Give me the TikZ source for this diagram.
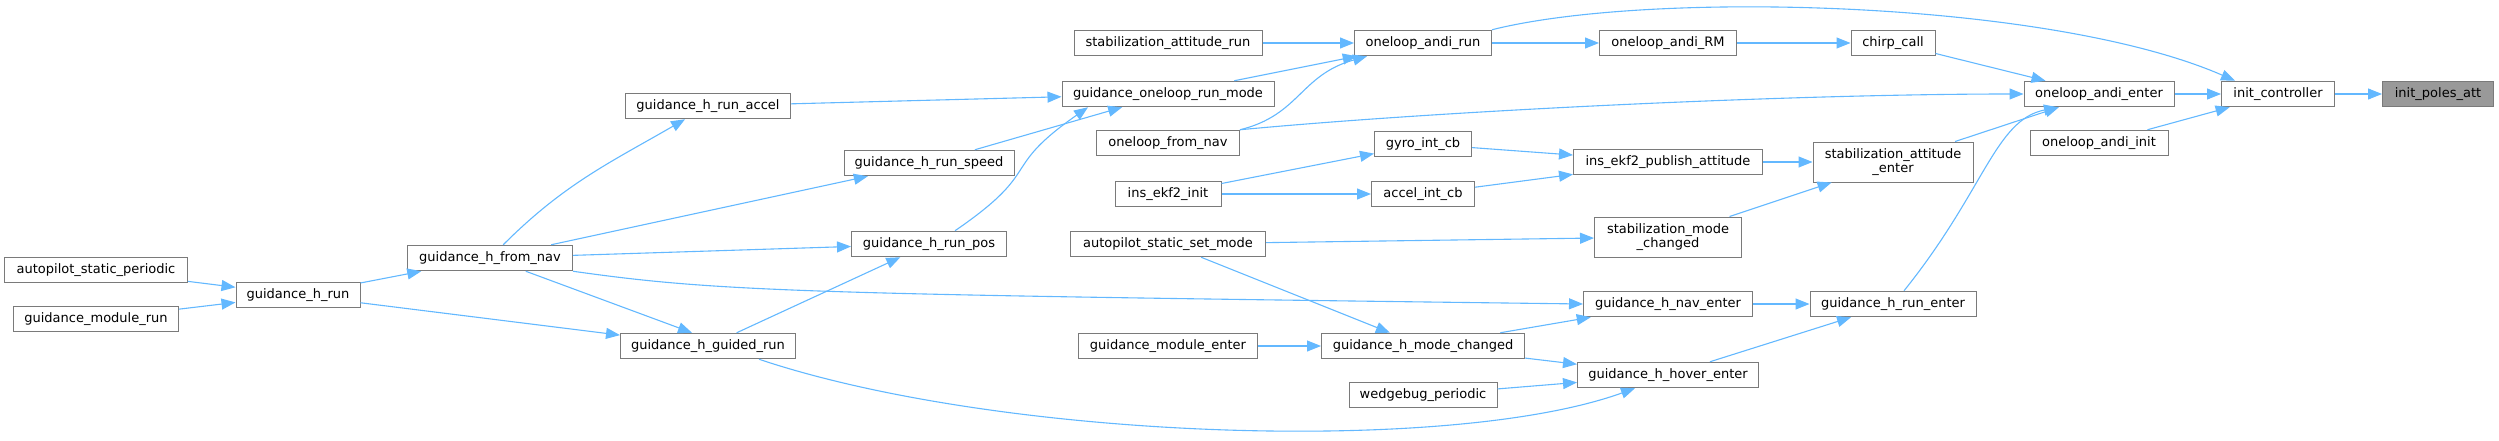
\documentclass[tikz,border=0pt]{standalone}
\usepackage{fontspec}
\setmainfont{DejaVu Sans}
\usetikzlibrary{arrows.meta}
\definecolor{callblue}{HTML}{63B8FF}
\definecolor{boxgray}{HTML}{7A7A7A}
\definecolor{hitgray}{HTML}{999999}

\begin{document}
\begin{tikzpicture}[x=1pt, y=1pt,
    fn/.style={draw=boxgray, line width=1pt, fill=white, minimum height=25.5pt,
        inner sep=2pt, align=center, font=\fontsize{13}{14}\selectfont},
    fntwo/.style={fn, minimum height=40pt},
    hit/.style={fn, fill=hitgray},
    call/.style={callblue, line width=1.1pt, -{Triangle[length=14pt,width=11pt]}}]
    \useasboundingbox (0,0) rectangle (2499,440);

    % Left callers
    \node[fn, minimum width=183pt] (asp) at (96,170) {autopilot\_static\_periodic};
    \node[fn, minimum width=165pt] (gmr) at (96,121) {guidance\_module\_run};
    \node[fn, minimum width=124pt] (ghr) at (298,145) {guidance\_h\_run};
    \node[fn, minimum width=165pt] (ghfn) at (490,182) {guidance\_h\_from\_nav};
    \node[fn, minimum width=165pt] (ghra) at (708,334) {guidance\_h\_run\_accel};
    \node[fn, minimum width=175pt] (ghgr) at (708,94) {guidance\_h\_guided\_run};
    \node[fn, minimum width=170pt] (ghrs) at (929,277) {guidance\_h\_run\_speed};
    \node[fn, minimum width=155pt] (ghrp) at (929,196) {guidance\_h\_run\_pos};

    % Middle column
    \node[fn, minimum width=188pt] (sar) at (1168,397) {stabilization\_attitude\_run};
    \node[fn, minimum width=212pt] (gorm) at (1168,346) {guidance\_oneloop\_run\_mode};
    \node[fn, minimum width=143pt] (ofn) at (1168,297) {oneloop\_from\_nav};
    \node[fn, minimum width=106pt] (iei) at (1168,246) {ins\_ekf2\_init};
    \node[fn, minimum width=195pt] (assm) at (1168,196) {autopilot\_static\_set\_mode};
    \node[fn, minimum width=179pt] (gme) at (1168,94) {guidance\_module\_enter};
    \node[fn, minimum width=137pt] (oar) at (1423,397) {oneloop\_andi\_run};
    \node[fn, minimum width=97pt] (gic) at (1423,296) {gyro\_int\_cb};
    \node[fn, minimum width=103pt] (aic) at (1423,246) {accel\_int\_cb};
    \node[fn, minimum width=203pt] (ghmc) at (1423,94) {guidance\_h\_mode\_changed};
    \node[fn, minimum width=148pt] (wp) at (1423,45) {wedgebug\_periodic};

    % Right columns
    \node[fn, minimum width=137pt] (oarm) at (1668,397) {oneloop\_andi\_RM};
    \node[fn, minimum width=189pt] (iepa) at (1668,278) {ins\_ekf2\_publish\_attitude};
    \node[fntwo, minimum width=147pt] (smc) at (1668,203) {stabilization\_mode\\\_changed};
    \node[fn, minimum width=169pt] (ghne) at (1668,136) {guidance\_h\_nav\_enter};
    \node[fn, minimum width=181pt] (ghhe) at (1668,65) {guidance\_h\_hover\_enter};
    \node[fn, minimum width=84pt] (cc) at (1893,397) {chirp\_call};
    \node[fntwo, minimum width=160pt] (sae) at (1893,278) {stabilization\_attitude\\\_enter};
    \node[fn, minimum width=166pt] (ghre) at (1893,136) {guidance\_h\_run\_enter};
    \node[fn, minimum width=150pt] (oae) at (2099,346) {oneloop\_andi\_enter};
    \node[fn, minimum width=138pt] (oai) at (2099,297) {oneloop\_andi\_init};
    \node[fn, minimum width=113pt] (ic) at (2278,346) {init\_controller};
    \node[hit, minimum width=111pt] (ipa) at (2438,346) {init\_poles\_att};

    % Calls into guidance_h_run and guidance_h_from_nav
    \draw[call] (asp) -- (ghr);
    \draw[call] (gmr) -- (ghr);
    \draw[call] (ghr) -- (ghfn);
    \draw[call] (ghr) -- (ghgr);
    \draw[call] (ghfn) to[out=45, in=-150] (ghra);
    \draw[call] (ghfn) -- (ghrs);
    \draw[call] (ghfn) -- (ghrp);
    \draw[call] (ghfn.south east) .. controls (720,148) and (800,146) .. (ghne.west);
    \draw[call] (ghfn) -- ([xshift=-16pt]ghgr.north);

    % Into guidance_oneloop_run_mode
    \draw[call] (ghra) -- (gorm);
    \draw[call] (ghrs) -- (gorm);
    \draw[call] ([xshift=26pt]ghrp.north) .. controls (1045,271) and (998,270) .. ([xshift=-80pt]gorm.south);
    \draw[call] (ghgr) -- (ghrp);
    \draw[call] ([xshift=51pt]ghgr.south) .. controls (1000,0) and (1450,-15) .. ([xshift=-33pt]ghhe.south);

    % oneloop_andi_run
    \draw[call] (sar) -- (oar);
    \draw[call] (gorm) -- (oar);
    \draw[call] (ofn.north east) .. controls (1300,325) and (1300,365) .. ([xshift=-56pt]oar.south);
    \draw[call] (ofn.north east) .. controls (1450,330) and (1800,346) .. (oae.west);
    \draw[call] (oar) -- (oarm);
    \draw[call] (oarm) -- (cc);
    \draw[call] (oar.north east) .. controls (1650,450) and (2050,440) .. ([xshift=-43pt]ic.north);

    % ekf2 and stabilization
    \draw[call] (iei) -- (gic);
    \draw[call] (iei) -- (aic);
    \draw[call] (gic) -- (iepa);
    \draw[call] (aic) -- (iepa);
    \draw[call] (iepa) -- (sae);
    \draw[call] (assm) -- (smc);
    \draw[call] (smc) -- (sae);

    % Guidance mode changes
    \draw[call] (assm) -- (ghmc);
    \draw[call] (gme) -- (ghmc);
    \draw[call] (ghmc) -- (ghne);
    \draw[call] (ghmc) -- (ghhe);
    \draw[call] (wp) -- (ghhe);
    \draw[call] (ghne) -- (ghre);
    \draw[call] (ghhe) -- (ghre);

    % Into oneloop_andi_enter and init_controller
    \draw[call] (cc) -- (oae);
    \draw[call] (sae) -- (oae);
    \draw[call] ([xshift=11pt]ghre.north) .. controls (1985,250) and (1995,320) .. ([xshift=-41pt]oae.south);
    \draw[call] (oae) -- (ic);
    \draw[call] (oai) -- (ic);
    \draw[call] (ic) -- (ipa);
\end{tikzpicture}
\end{document}
